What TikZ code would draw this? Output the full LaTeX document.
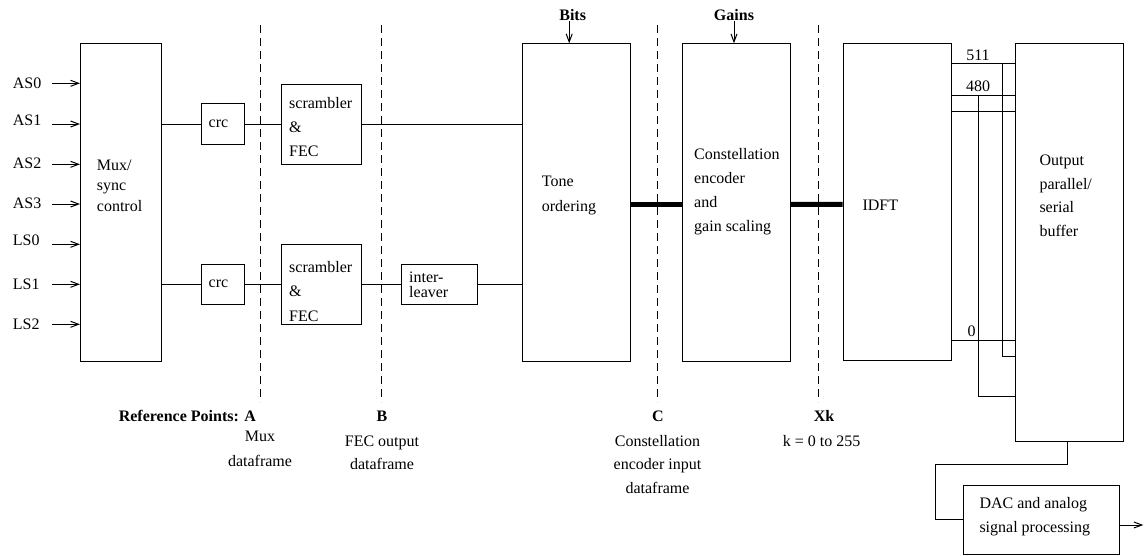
\documentclass[tikz,border=0pt]{standalone}
\usepackage{fontspec}
\setmainfont{Liberation Serif}
\usetikzlibrary{arrows.meta}

% block with corners (x1,y1)-(x2,y2), y measured downwards
\newcommand\blockat[5]{%
  \node[blk, minimum width={#4-#2}, minimum height={#5-#3}] (#1) at (#2,#3) {};}

\tikzset{
  blk/.style={draw, line width=1pt, inner sep=0pt, anchor=north west},
  wire/.style={line width=1pt},
  bus/.style={line width=5pt},
  arr/.style={line width=1pt, -{Straight Barb[length=8pt,width=6pt,line width=1pt]}},
  refline/.style={line width=1pt, dash pattern=on 8pt off 5pt},
  lbl/.style={inner sep=0pt, font=\fontsize{16}{24}\selectfont, align=left, anchor=west},
  ctr/.style={inner sep=0pt, font=\fontsize{16}{24}\selectfont, align=center},
  bold/.style={inner sep=0pt, font=\fontsize{16}{24}\selectfont\bfseries, align=center},
}

\begin{document}
\begin{tikzpicture}[x=1pt, y=-1pt]
\useasboundingbox (0,0) rectangle (1144,555);

% ---- blocks ----
\blockat{mux}{80}{43.3}{160.7}{360.7}
\blockat{crcA}{200.5}{103.3}{244.3}{144}
\blockat{crcB}{200.5}{264.3}{244.3}{304.3}
\blockat{scrA}{280.7}{84}{361}{164}
\blockat{scrB}{280.7}{244.3}{361}{324.3}
\blockat{ilv}{401}{264.3}{477.3}{304.3}
\blockat{tone}{521.7}{43.3}{630}{360.5}
\blockat{cenc}{681.7}{43.3}{790}{360.5}
\blockat{idft}{842.5}{43.3}{950.7}{360.3}
\blockat{outb}{1015}{43.3}{1123.3}{440.5}
\blockat{dac}{962.7}{485}{1119.3}{553.5}

% ---- block texts ----
\node[lbl, font=\fontsize{16}{20.8}\selectfont] (muxT) at (96.7,185.6) {Mux/\\sync\\control};
\node[lbl] (crcAT) at (208.5,124) {crc};
\node[lbl] (crcBT) at (208.5,284.3) {crc};
\node[lbl, font=\fontsize{16}{24.2}\selectfont] (scrAT) at (289,127) {scrambler\\\&\\FEC};
\node[lbl, font=\fontsize{16}{24.2}\selectfont] (scrBT) at (289,291.5) {scrambler\\\&\\FEC};
\node[lbl, font=\fontsize{16}{15}\selectfont] (ilvT) at (409,284.5) {inter-\\leaver};
\node[lbl, font=\fontsize{16}{24.6}\selectfont] (toneT) at (541.7,195.5) {Tone\\ordering};
\node[lbl] (cencT) at (694,191.5) {Constellation\\encoder\\and\\gain scaling};
\node[lbl] (idftT) at (862.3,205) {IDFT};
\node[lbl, font=\fontsize{16}{23.7}\selectfont] (outT) at (1039.3,195.8) {Output\\parallel/\\serial\\buffer};
\node[lbl, font=\fontsize{16}{24.3}\selectfont] (dacT) at (979.3,516.5) {DAC and analog\\signal processing};

% ---- input streams ----
\foreach \n/\ly/\ay in {AS0/82.8/83.3, AS1/120/124, AS2/163.3/164.3, AS3/203.3/204,
                        LS0/240/244.3, LS1/284.3/284.3, LS2/324.3/324.3}{
  \node[lbl] (t\n) at (12.7,\ly) {\n};
  \coordinate (i\n) at (52.3,\ay);
  \draw[arr] (i\n) -- (i\n -| mux.west);
}

% ---- data path ----
\draw[wire] (mux.east |- crcA.west) -- (crcA.west);
\draw[wire] (crcA.east) -- (crcA.east -| scrA.west);
\draw[wire] (scrA.east) -- (scrA.east -| tone.west);
\draw[wire] (mux.east |- crcB.west) -- (crcB.west);
\draw[wire] (crcB.east) -- (crcB.east -| scrB.west);
\draw[wire] (scrB.east) -- (scrB.east -| ilv.west);
\draw[wire] (ilv.east) -- (ilv.east -| tone.west);
\draw[bus] ([yshift=-2pt]tone.east) -- ([yshift=-2pt]cenc.west);
\draw[bus] ([yshift=-2pt]cenc.east) -- ([yshift=-2pt]idft.west);

% ---- control inputs ----
\node[bold] (bits) at (572.7,15) {Bits};
\node[bold] (gains) at (734,15) {Gains};
\coordinate (bitsIn) at ([xshift=-3.5pt]bits.south);
\draw[arr] (bitsIn) -- (bitsIn |- tone.north);
\draw[arr] (gains.south) -- (gains.south |- cenc.north);

% ---- IDFT outputs into the buffer ----
\coordinate (w511) at (950.7,63.3);
\coordinate (w480) at (950.7,95.7);
\coordinate (w479) at (950.7,111);
\coordinate (w0)   at (950.7,340.7);
\draw[wire] (w511 -| idft.east) -- (w511 -| outb.west);
\draw[wire] (w480 -| idft.east) -- (w480 -| outb.west);
\draw[wire] (w479 -| idft.east) -- (w479 -| outb.west);
\draw[wire] (w0 -| idft.east) -- (w0 -| outb.west);
\coordinate (jA) at (1002.7,63.3);
\coordinate (jAb) at (1002.7,356);
\draw[wire] (jA) -- (jAb) -- (jAb -| outb.west);
\coordinate (jB) at (978.3,95.7);
\coordinate (jBb) at (978.3,396.7);
\draw[wire] (jB) -- (jBb) -- (jBb -| outb.west);
\node[ctr] (l511) at (978,55) {511};
\node[ctr] (l480) at (978,86.7) {480};
\node[ctr] (l0) at (971.7,331.7) {0};

% ---- buffer to DAC and line out ----
\coordinate (bend) at (935,464.3);
\draw[wire] ([xshift=-2pt]outb.south) |- (bend) |- (dac.west);
\coordinate (lineOut) at (1143.3,525);
\draw[arr] (dac.east |- lineOut) -- (lineOut);

% ---- reference points ----
\draw[refline] (260.3,25) -- (260.3,402);
\draw[refline] (381,25) -- (381,402);
\draw[refline] (657.3,25) -- (657.3,402);
\draw[refline] (818.3,25) -- (818.3,402);

\node[bold, anchor=east] (refA) at (256,416) {Reference Points: A};
\node[ctr, font=\fontsize{16}{25.5}\selectfont] (refAT) at (260,449) {Mux\\dataframe};
\node[bold] (refB) at (382,416) {B};
\node[ctr, font=\fontsize{16}{22.5}\selectfont] (refBT) at (382,453) {FEC output\\dataframe};
\node[bold] (refC) at (658,416) {C};
\node[ctr, font=\fontsize{16}{23.5}\selectfont] (refCT) at (657.5,464.2) {Constellation\\encoder input\\dataframe};
\node[bold] (refX) at (824,416) {Xk};
\node[ctr] (refXT) at (821.7,440.7) {k = 0 to 255};
\end{tikzpicture}
\end{document}
